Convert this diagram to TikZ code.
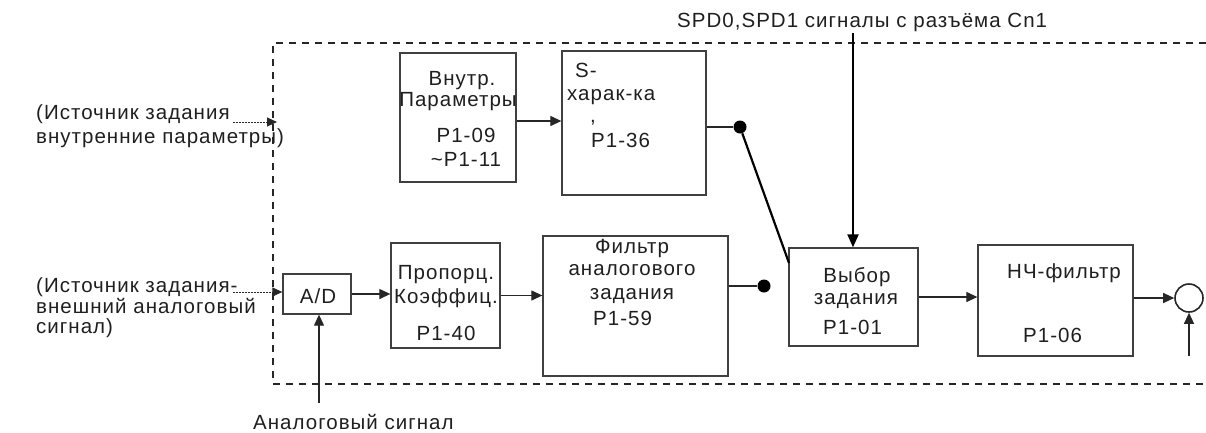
\documentclass[tikz,border=0pt]{standalone}
\usepackage{fontspec}
\setmainfont{Liberation Sans}[LetterSpace=5]
\usetikzlibrary{arrows.meta}
\tikzset{
  blk/.style={draw=black!75, line width=1.3pt, inner sep=0pt},
  lbl/.style={inner sep=0pt, anchor=base, text=black!88},
  lbll/.style={inner sep=0pt, anchor=base west, text=black!88},
  conn/.style={line width=1.2pt, draw=black!85},
  arr/.style={conn, -{Triangle[length=11pt,width=10pt]}},
  thk/.style={line width=2.2pt, draw=black},
  dotarr/.style={line width=0.9pt, draw=black!85, dash pattern=on 2pt off 1pt, -{Triangle[length=10pt,width=9pt]}},
  frame/.style={line width=1.5pt, draw=black!85, dash pattern=on 7pt off 6pt},
  dotc/.style={circle, fill=black, inner sep=0pt, minimum size=13pt}
}
\begin{document}
\begin{tikzpicture}[x=1pt, y=-1pt, font=\fontsize{20.5}{24}\selectfont]
\useasboundingbox (0,0) rectangle (1206,432);

% frame
\draw[frame] (1206,43) -- (273,43) -- (273,384) -- (1206,384);

% blocks
\node[blk, minimum width=116pt, minimum height=129pt] (vn) at (458,117.5) {};
\node[blk, minimum width=144pt, minimum height=144pt] (sx) at (634,123) {};
\node[blk, minimum width=68pt, minimum height=40pt] (ad) at (317,294) {};
\node[blk, minimum width=109pt, minimum height=105pt] (pr) at (445.5,295.5) {};
\node[blk, minimum width=185pt, minimum height=140pt] (fl) at (635.5,306) {};
\node[blk, minimum width=129pt, minimum height=98pt] (vb) at (853.5,297) {};
\node[blk, minimum width=155pt, minimum height=111pt] (nch) at (1055.5,300.5) {};
\node[draw=black!85, circle, line width=1.6pt, minimum size=28pt, inner sep=0pt] (sum) at (1189,298) {};

% texts in blocks
\node[lbl] (vn1) at (462,85) {Внутр.};
\node[lbl] (vn2) at (458,106) {Параметры};
\node[lbl] (vn3) at (466,142) {P1-09};
\node[lbl] (vn4) at (466,166) {\textasciitilde P1-11};

\node[lbll] (sx1) at (575,77) {S-};
\node[lbll] (sx2) at (567,100) {харак-ка};
\node[lbll] (sx3) at (590,122) {,};
\node[lbll] (sx4) at (591,147) {P1-36};

\node[lbl] (ad1) at (318,303) {A/D};

\node[lbl] (pr1) at (446,279) {Пропорц.};
\node[lbl] (pr2) at (446,303) {Коэффиц.};
\node[lbl] (pr3) at (446,340) {P1-40};

\node[lbl] (fl1) at (632,253) {Фильтр};
\node[lbl] (fl2) at (632,275) {аналогового};
\node[lbl] (fl3) at (632,299) {задания};
\node[lbll] (fl4) at (593,325) {P1-59};

\node[lbl] (vb1) at (857,282) {Выбор};
\node[lbl] (vb2) at (856,304) {задания};
\node[lbll] (vb3) at (823,334) {P1-01};

\node[lbll] (nch1) at (1007,278) {НЧ-фильтр};
\node[lbll] (nch2) at (1023,342) {P1-06};

% outside texts
\node[lbll] (spd) at (677,27) {SPD0,SPD1 сигналы с разъёма Cn1};
\node[lbll] (s1a) at (36,119) {(Источник задания};
\node[lbll] (s1b) at (36,143) {внутренние параметры)};
\node[lbll] (s2a) at (36,292) {(Источник задания-};
\node[lbll] (s2b) at (36,313) {внешний аналоговый};
\node[lbll] (s2c) at (36,333) {сигнал)};
\node[lbll] (an) at (253,429) {Аналоговый сигнал};

% connectors
\coordinate (in1) at (233,122);
\coordinate (in1e) at (277,122);
\draw[dotarr] (in1) -- (in1e);
\coordinate (in2) at (233,292);
\draw[dotarr] (in2) -- (in2 -| ad.west);

\draw[arr] ([yshift=-3.5pt]vn.east) -- ([yshift=-3.5pt]vn.east -| sx.west);

\node[dotc] (d1) at (740,127) {};
\draw[conn] (d1 -| sx.east) -- (d1);
\coordinate (swend) at (789,263);
\draw[thk] (d1) -- (swend);

\node[dotc] (d2) at (764,286) {};
\draw[conn] (d2 -| fl.east) -- (d2);

\coordinate (spdtop) at (853,33);
\draw[thk, -{Triangle[length=13pt,width=11pt]}] (spdtop) -- (spdtop |- vb.north);

\draw[arr] (ad.east) -- (ad.east -| pr.west);
\draw[arr] (pr.east) -- (pr.east -| fl.west);
\draw[arr] (vb.east) -- (vb.east -| nch.west);
\draw[arr] (sum.west -| nch.east) -- (sum.west);
\coordinate (fb) at (1189,356);
\draw[arr] (fb) -- (sum.south);
\coordinate (anin) at (319,403);
\draw[arr] (anin) -- (anin |- ad.south);
\end{tikzpicture}
\end{document}
